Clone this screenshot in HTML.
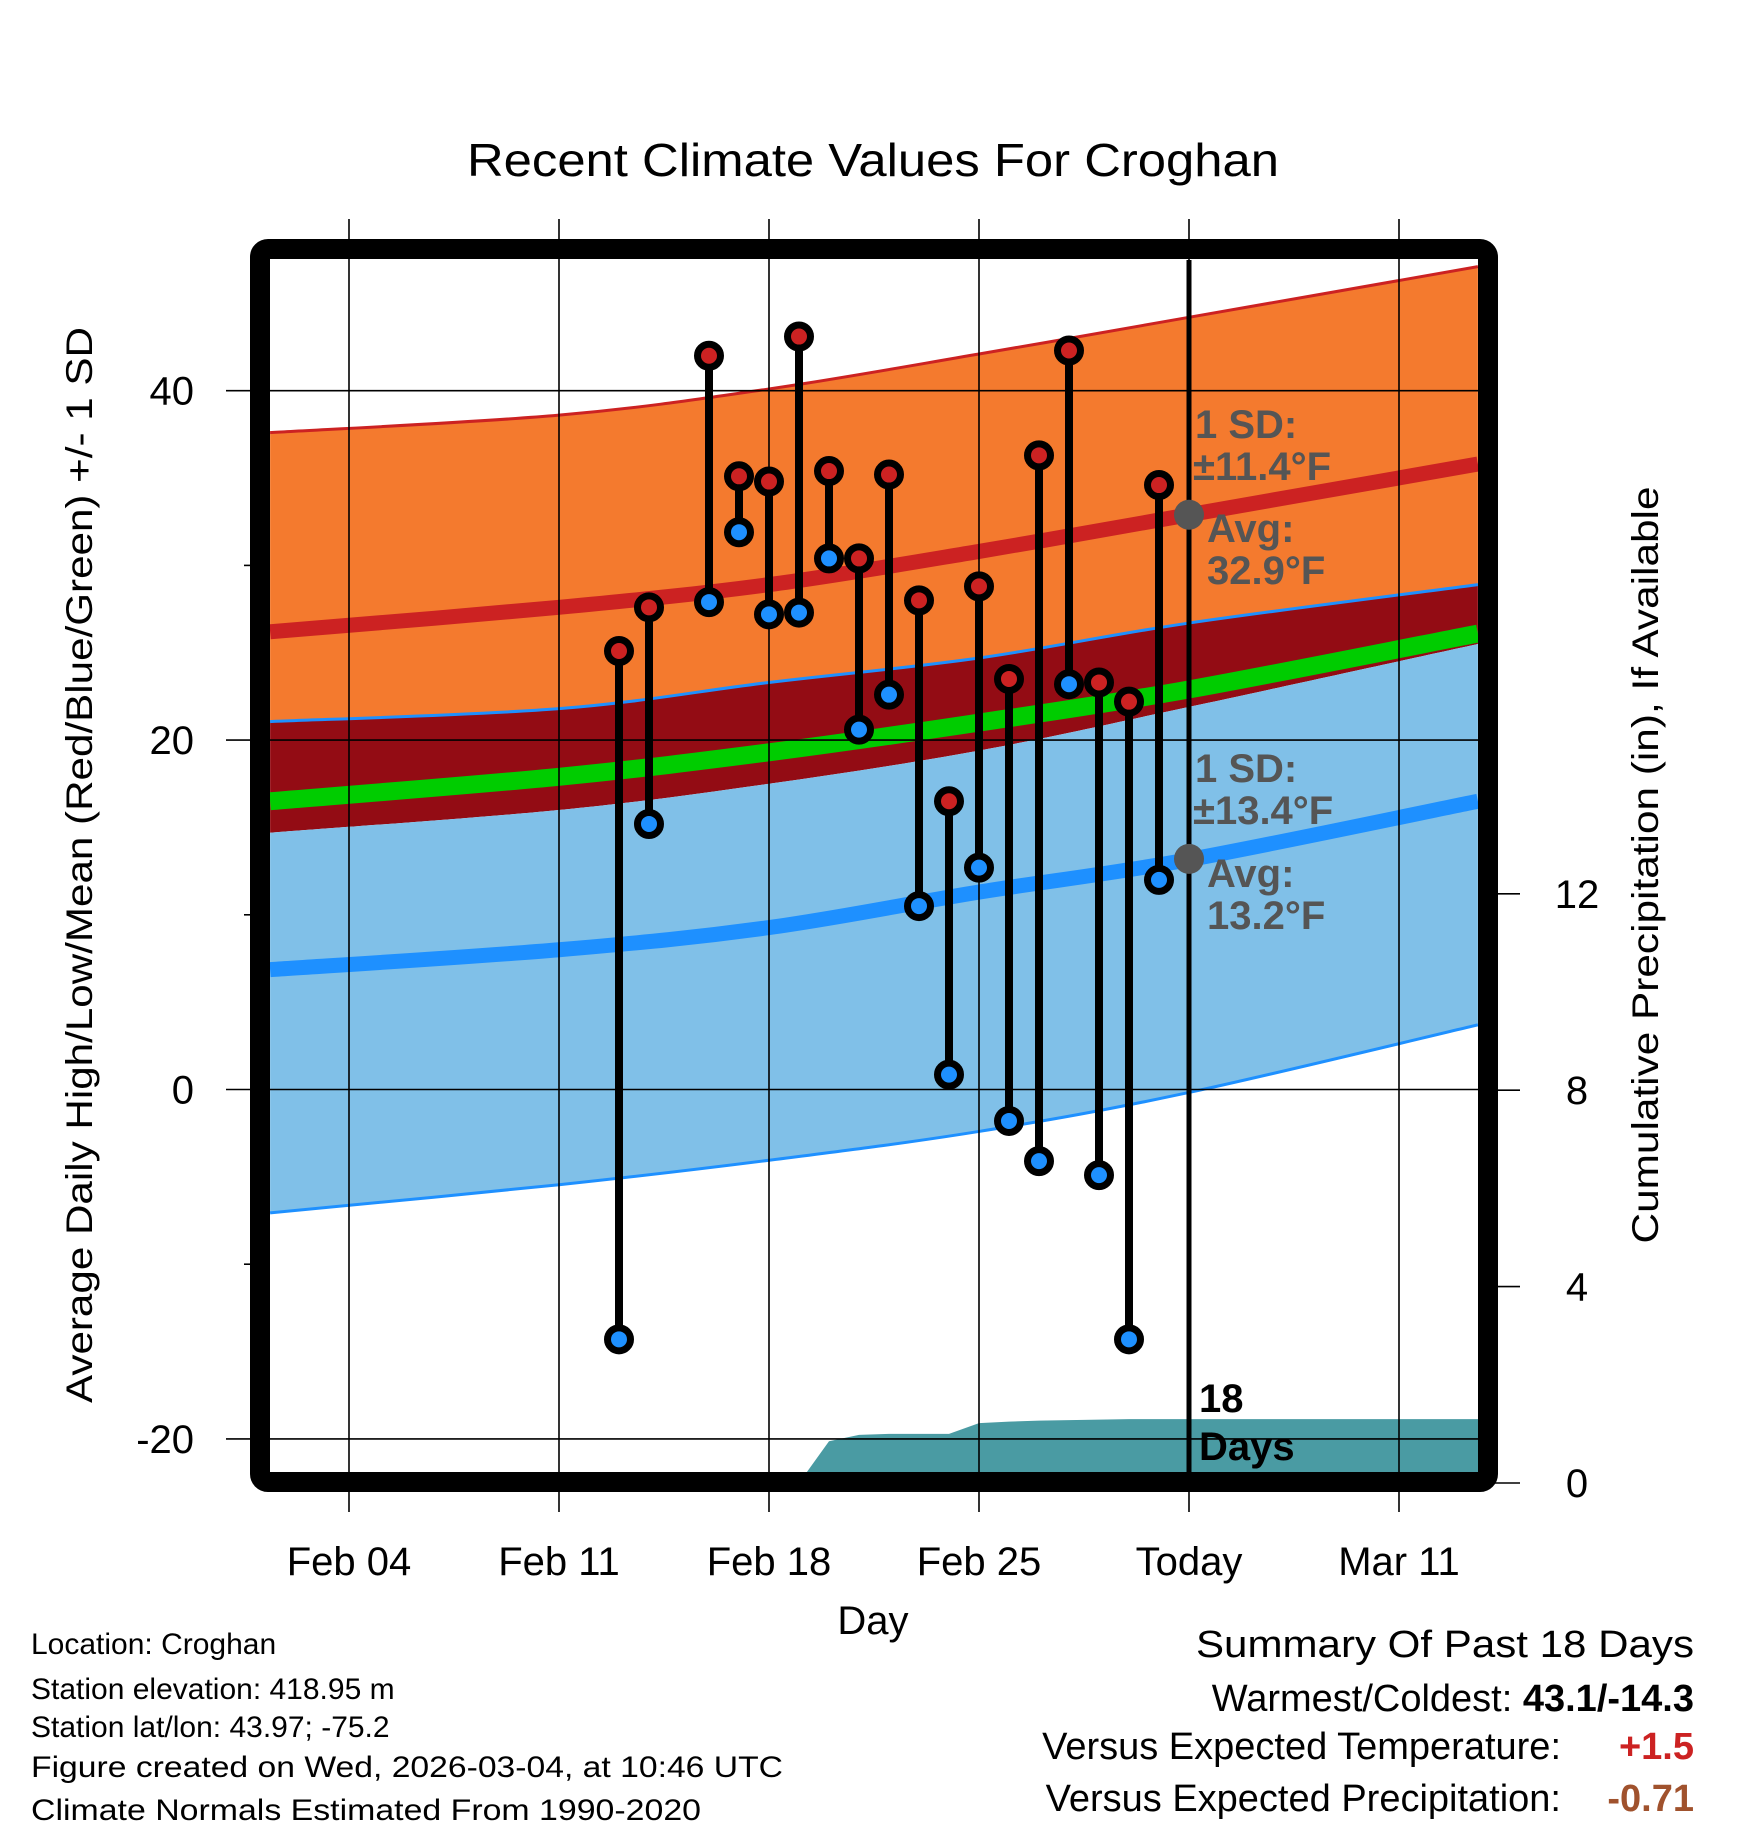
<!DOCTYPE html>
<html><head><meta charset="utf-8"><style>
html,body{margin:0;padding:0;background:#fff;}
svg{display:block;font-family:"Liberation Sans",sans-serif;}
</style></head><body>
<svg id="chart" width="1748" height="1828" viewBox="0 0 1748 1828" xmlns="http://www.w3.org/2000/svg">
<defs><clipPath id="plotclip"><rect x="270" y="260" width="1208" height="1212"/></clipPath></defs>
<rect width="1748" height="1828" fill="#fff"/>
<text x="873" y="176" font-size="46" text-anchor="middle" textLength="812" lengthAdjust="spacingAndGlyphs">Recent Climate Values For Croghan</text>
<g id="bands" clip-path="url(#plotclip)"></g>
<g id="grid"></g>
<g id="marks"></g>
<g id="annot">
  <text x="1195" y="438" font-size="40" font-weight="bold" fill="#555">1 SD:</text>
  <text x="1193" y="480" font-size="40" font-weight="bold" fill="#555">±11.4°F</text>
  <text x="1207" y="542" font-size="40" font-weight="bold" fill="#555">Avg:</text>
  <text x="1207" y="584" font-size="40" font-weight="bold" fill="#555">32.9°F</text>
  <text x="1195" y="782" font-size="40" font-weight="bold" fill="#555">1 SD:</text>
  <text x="1193" y="824" font-size="40" font-weight="bold" fill="#555">±13.4°F</text>
  <text x="1207" y="887" font-size="40" font-weight="bold" fill="#555">Avg:</text>
  <text x="1207" y="929" font-size="40" font-weight="bold" fill="#555">13.2°F</text>
  <text x="1199" y="1412" font-size="40" font-weight="bold" fill="#000">18</text>
  <text x="1199" y="1460" font-size="40" font-weight="bold" fill="#000">Days</text>
</g>
<rect x="260" y="249" width="1228" height="1233" rx="8" fill="none" stroke="#000" stroke-width="20"/>
<text x="873" y="1634" font-size="40" text-anchor="middle">Day</text>
<text transform="translate(92,865) rotate(-90)" font-size="37" text-anchor="middle" textLength="1076" lengthAdjust="spacingAndGlyphs">Average Daily High/Low/Mean (Red/Blue/Green) +/- 1 SD</text>
<text transform="translate(1658,865) rotate(-90)" font-size="37" text-anchor="middle" textLength="757" lengthAdjust="spacingAndGlyphs">Cumulative Precipitation (in), If Available</text>
<g font-size="30">
  <text x="31" y="1654">Location: Croghan</text>
  <text x="31" y="1699">Station elevation: 418.95 m</text>
  <text x="31" y="1737">Station lat/lon: 43.97; -75.2</text>
  <text x="31" y="1777" textLength="752" lengthAdjust="spacingAndGlyphs">Figure created on Wed, 2026-03-04, at 10:46 UTC</text>
  <text x="31" y="1820" textLength="670" lengthAdjust="spacingAndGlyphs">Climate Normals Estimated From 1990-2020</text>
</g>
<g font-size="38" text-anchor="end">
  <text x="1694" y="1657" textLength="498" lengthAdjust="spacingAndGlyphs">Summary Of Past 18 Days</text>
  <text x="1694" y="1711">Warmest/Coldest: <tspan font-weight="bold">43.1/-14.3</tspan></text>
  <text x="1561" y="1759">Versus Expected Temperature:</text>
  <text x="1694" y="1759" font-weight="bold" fill="#cc2222">+1.5</text>
  <text x="1561" y="1811">Versus Expected Precipitation:</text>
  <text x="1694" y="1811" font-weight="bold" fill="#a0522d">-0.71</text>
</g>
</svg>
<script>
// normals sample days (0 = Feb 04)
const normDays = [-2.63, 7, 14, 21, 28, 37.63];
const highTop  = [37.6, 38.6, 40.1, 42.1, 44.2, 47.1];
const highMean = [26.2, 27.6, 28.9, 30.8, 32.9, 35.8];
const bandTop  = [21.06, 21.8, 23.3, 24.7, 26.7, 28.9];
const meanLine = [16.5, 17.9, 19.3, 21.0, 22.9, 26.1];
const lowTop   = [14.7, 16.0, 17.5, 19.4, 21.9, 25.5];
const lowMean  = [6.86, 8.0, 9.27, 11.3, 13.16, 16.5];
const lowBot   = [-7.06, -5.45, -4.05, -2.4, -0.17, 3.7];
// observations
const obsDays  = [9,10,12,13,14,15,16,17,18,19,20,21,22,23,24,25,26,27];
const obsHigh  = [25.1,27.6,42.0,35.1,34.8,43.1,35.4,30.4,35.2,28.0,16.5,28.8,23.5,36.3,42.3,23.3,22.2,34.6];
const obsLow   = [-14.3,15.2,27.9,31.9,27.2,27.3,30.4,20.6,22.6,10.5,0.85,12.7,-1.8,-4.1,23.2,-4.9,-14.3,12.0];
const precip   = [0,0,0,0,0,0,0.85,0.98,1.0,1.0,1.0,1.22,1.25,1.27,1.28,1.29,1.3,1.3];
// axes ticks
const xTickDays = [0,7,14,21,28,35];
const xTickLabels = ["Feb 04","Feb 11","Feb 18","Feb 25","Today","Mar 11"];
const yTicks = [-20,0,20,40];
const yMinor = [-10,10,30];
const pTicks = [0,4,8,12];
const todayDay = 28;
const todayHighAvg = 32.9, todayLowAvg = 13.2;

const NS="http://www.w3.org/2000/svg";
const xs = d => 349 + 30*d;
const yT = t => 1089.5 - 17.47*t;
const yP = p => 1483 - 49.1*p;
function mk(tag, attrs, parent){const e=document.createElementNS(NS,tag);for(const k in attrs)e.setAttribute(k,attrs[k]);parent.appendChild(e);return e;}
function curvePts(days, vals){
  const p=days.map((d,i)=>[xs(d),yT(vals[i])]);
  let s=`${p[0][0]},${p[0][1]}`;
  for(let i=0;i<p.length-1;i++){
    const p0=p[Math.max(0,i-1)],p1=p[i],p2=p[i+1],p3=p[Math.min(p.length-1,i+2)];
    const c1=[p1[0]+(p2[0]-p0[0])/6,p1[1]+(p2[1]-p0[1])/6];
    const c2=[p2[0]-(p3[0]-p1[0])/6,p2[1]-(p3[1]-p1[1])/6];
    s+=` C${c1[0]},${c1[1]} ${c2[0]},${c2[1]} ${p2[0]},${p2[1]}`;
  }
  return s;
}
function revPts(days, vals){return curvePts(days.slice().reverse(), vals.slice().reverse());}
const bands=document.getElementById('bands');
const grid=document.getElementById('grid');
const marks=document.getElementById('marks');
function band(top, bot, fill, name){
  const e=mk('path',{d:`M${curvePts(normDays,top)} L${revPts(normDays,bot)} Z`,fill:fill},bands);
  
  
}
function line(vals, color, w, name){
  const e=mk('path',{d:`M${curvePts(normDays,vals)}`,fill:'none',stroke:color,'stroke-width':w},bands);
  
  
}

band(highTop, bandTop, '#f47a2e', 'high-sd-band');
band(bandTop, lowTop, '#930c14', 'overlap-band');
band(lowTop, lowBot, '#80c0e8', 'low-sd-band');
line(highTop, '#cc2222', 3, 'high-plus-sd-line');
line(bandTop, '#1e90ff', 3, 'low-plus-sd-line');
line(lowBot, '#1e90ff', 3, 'low-minus-sd-line');
line(meanLine, '#00cc00', 18, 'mean-normal-line');
line(highMean, '#cc2222', 15, 'high-normal-line');
line(lowMean, '#1e90ff', 15, 'low-normal-line');

// precipitation area
{
  let d=`M${xs(obsDays[0])},${yP(0)}`;
  obsDays.forEach((dd,i)=>{d+=` L${xs(dd)},${yP(precip[i])}`;});
  d+=` L${xs(40)},${yP(precip[precip.length-1])} L${xs(40)},${yP(0)+20} L${xs(obsDays[0])},${yP(0)+20} Z`;
  const e=mk('path',{d:d,fill:'#4a9ba3'},bands);
  
  
}

// grid lines
yTicks.forEach(t=>{
  const e=mk('line',{x1:226,x2:1478,y1:yT(t),y2:yT(t),stroke:'#000','stroke-width':1.6},grid);
  
  
  const l=mk('text',{x:194,y:yT(t)+14,'font-size':40,'text-anchor':'end'},grid);
  l.textContent=String(t);
  
  
});
yMinor.forEach(t=>{
  const e=mk('line',{x1:244,x2:260,y1:yT(t),y2:yT(t),stroke:'#000','stroke-width':1.6},grid);
  
  
});
xTickDays.forEach((d,i)=>{
  const e=mk('line',{x1:xs(d),x2:xs(d),y1:219,y2:1512,stroke:'#000','stroke-width':1.6},grid);
  
  
  const l=mk('text',{x:xs(d),y:1575,'font-size':40,'text-anchor':'middle'},grid);
  l.textContent=xTickLabels[i];
  
  
});
pTicks.forEach(p=>{
  const e=mk('line',{x1:1488,x2:1520,y1:yP(p),y2:yP(p),stroke:'#000','stroke-width':1.6},grid);
  
  
  const l=mk('text',{x:1577,y:yP(p)+14,'font-size':40,'text-anchor':'middle'},grid);
  l.textContent=String(p);
  
  
});
{
  const e=mk('line',{x1:xs(todayDay),x2:xs(todayDay),y1:260,y2:1472,stroke:'#000','stroke-width':5},grid);
  
  
}

// observations
obsDays.forEach((d,i)=>{
  const x=xs(d);
  const s=mk('line',{x1:x,x2:x,y1:yT(obsHigh[i]),y2:yT(obsLow[i]),stroke:'#000','stroke-width':8},marks);
  
  
});
obsDays.forEach((d,i)=>{
  const x=xs(d);
  const h=mk('circle',{cx:x,cy:yT(obsHigh[i]),r:11.5,fill:'#cc2222',stroke:'#000','stroke-width':7},marks);
  
  
  const l=mk('circle',{cx:x,cy:yT(obsLow[i]),r:11.5,fill:'#1e90ff',stroke:'#000','stroke-width':7},marks);
  
  
});
{
  const a=mk('circle',{cx:xs(todayDay),cy:yT(todayHighAvg),r:15,fill:'#555'},marks);
  
  
  const b=mk('circle',{cx:xs(todayDay),cy:yT(todayLowAvg),r:15,fill:'#555'},marks);
  
  
}
</script>
</body></html>
